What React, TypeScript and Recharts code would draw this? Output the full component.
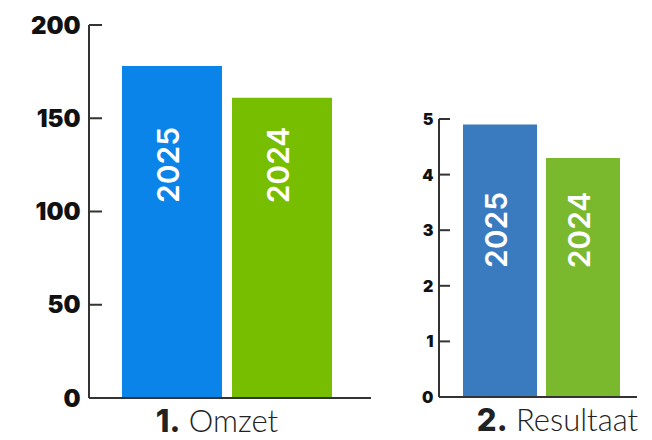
import React from 'react'
import { BarChart, Bar, XAxis, YAxis, LabelList } from 'recharts'

const years = ['2025', '2024']
const omzetValues = [178, 161]
const resultaatValues = [4.9, 4.3]
const omzetTicks = [0, 50, 100, 150, 200]
const resultaatTicks = [0, 1, 2, 3, 4, 5]
const omzetColors = ['#0a84e8', '#78be00']
const resultaatColors = ['#3a7bc0', '#7ab82e']

const AXIS = '#333'

function YTick({ x, y, payload, fontSize, tickLen }: any) {
  // x is the axis line position (tickSize and tickMargin are 0)
  return (
    <g>
      <line x1={x} x2={x + tickLen} y1={y} y2={y} stroke={AXIS} strokeWidth={2} />
      <text
        x={x - fontSize * 0.35}
        y={y}
        textAnchor="end"
        dominantBaseline="central"
        fontFamily="Inter, sans-serif"
        fontWeight={900}
        fontSize={fontSize}
        fill="#111"
      >
        {payload.value}
      </text>
    </g>
  )
}

function XTick({ x, y, num, label, dx }: any) {
  return (
    <text x={x + dx} y={y + 34} textAnchor="middle" fontFamily="Lato, sans-serif" fontSize={31} fill="#222">
      <tspan fontFamily="Inter, sans-serif" fontWeight={800}>{num}</tspan>
      <tspan fontWeight={300}> {label}</tspan>
    </text>
  )
}

function BarLabel({ x, y, width, height, text, offset }: any) {
  const cx = Number(x) + Number(width) / 2 - 4
  const cy = Number(y) + Number(height) - offset
  return (
    <text
      x={cx}
      y={cy}
      transform={`rotate(-90, ${cx}, ${cy})`}
      textAnchor="middle"
      dominantBaseline="central"
      fontFamily="Inter, sans-serif"
      fontWeight={600}
      fontSize={30}
      fill="#fff"
    >
      {text}
    </text>
  )
}

function Panel({ width, margin, xHeight, values, ticks, colors, barSize, gap, padding, fontSize, tickLen, num, label, labelDx, labelOffset }: any) {
  const row: any = { name: label }
  years.forEach((yr, i) => { row['y' + yr] = values[i] })
  const max = ticks[ticks.length - 1]
  return (
    <BarChart width={width} height={440} data={[row]} margin={margin} barGap={gap} barSize={barSize}>
      <XAxis
        dataKey="name"
        height={xHeight}
        axisLine={{ stroke: AXIS, strokeWidth: 2 }}
        tickLine={false}
        tickSize={0}
        tickMargin={0}
        padding={padding}
        tick={(p: any) => <XTick {...p} num={num} label={label} dx={labelDx} />}
        interval={0}
      />
      <YAxis
        domain={[0, max]}
        ticks={ticks}
        width={margin.yWidth}
        axisLine={{ stroke: AXIS, strokeWidth: 2 }}
        tickLine={false}
        tickSize={0}
        tickMargin={0}
        interval={0}
        tick={(p: any) => <YTick {...p} fontSize={fontSize} tickLen={tickLen} />}
      />
      {years.map((yr, i) => (
        <Bar key={yr} dataKey={'y' + yr} fill={colors[i]} isAnimationActive={false}>
          <LabelList
            dataKey={'y' + yr}
            content={(p: any) => <BarLabel {...p} text={yr} offset={labelOffset} />}
          />
        </Bar>
      ))}
    </BarChart>
  )
}

export default function App() {
  return (
    <div style={{ position: 'absolute', left: 0, top: 0, width: 652, height: 440, background: '#fff', overflow: 'hidden' }}>
      <div style={{ position: 'absolute', left: 0, top: 0 }}>
        <Panel
          width={380}
          margin={{ top: 25, right: 9, bottom: 0, left: 0, yWidth: 89 }}
          xHeight={42}
          values={omzetValues}
          ticks={omzetTicks}
          colors={omzetColors}
          barSize={100}
          gap={10}
          padding={{ left: 0, right: 6 }}
          fontSize={24}
          tickLen={13}
          num="1."
          label="Omzet"
          labelDx={-10}
          labelOffset={233}
        />
      </div>
      <div style={{ position: 'absolute', left: 380, top: 0 }}>
        <Panel
          width={272}
          margin={{ top: 119, right: 15, bottom: 0, left: 0, yWidth: 59 }}
          xHeight={43}
          values={resultaatValues}
          ticks={resultaatTicks}
          colors={resultaatColors}
          barSize={74}
          gap={9}
          padding={{ left: 7, right: 0 }}
          fontSize={16}
          tickLen={11}
          num="2."
          label="Resultaat"
          labelDx={16}
          labelOffset={167}
        />
      </div>
    </div>
  )
}
